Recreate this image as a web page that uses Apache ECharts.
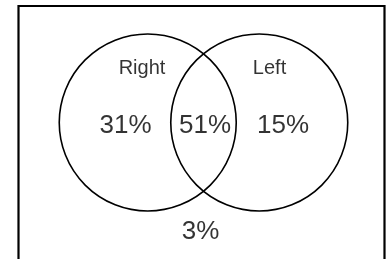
<!DOCTYPE html>
<html>
<head>
<meta charset="utf-8">
<script src="https://cdn.jsdelivr.net/npm/echarts@6/dist/echarts.min.js"></script>
<style>
  html, body { margin: 0; padding: 0; background: #fff; }
  #main { width: 391px; height: 259px; }
</style>
</head>
<body>
<div id="main"></div>
<script>
// circles, in units of the circle radius
var setNames = ['Right', 'Left'];
var setX = [-0.63, 0.63];
var setY = [0, 0];
var setR = [1, 1];
var setLabelX = [-0.695, 0.746];
var setLabelY = [0.616, 0.616];

// region shares (%), Right only / both / Left only / neither
var regionValues = [31, 51, 15, 3];
var regionX = [-0.881, 0.017, 0.898, -0.034];
var regionY = [-0.034, -0.034, -0.034, -1.237];

var chart = echarts.init(document.getElementById('main'));

var circleData = setX.map(function (x, i) { return [x, setY[i], setR[i]]; });
var setLabelData = setNames.map(function (n, i) { return { name: n, value: [setLabelX[i], setLabelY[i]] }; });
var regionData = regionValues.map(function (v, i) { return { name: v + '%', value: [regionX[i], regionY[i]] }; });

var font = 'Liberation Sans, Helvetica, Arial, sans-serif';

chart.setOption({
  animation: false,
  grid: { left: 0, right: 0, top: 0, bottom: 0 },
  xAxis: { type: 'value', min: -2.2994, max: 2.1186, show: false },
  yAxis: { type: 'value', min: -1.5424, max: 1.3842, show: false },
  graphic: [{
    type: 'rect',
    shape: { x: 18.5, y: 6, width: 366, height: 300 },
    style: { fill: 'none', stroke: '#000', lineWidth: 2.2 }
  }],
  series: [
    {
      type: 'custom',
      data: circleData,
      renderItem: function (params, api) {
        var c = api.coord([api.value(0), api.value(1)]);
        var s = api.size([api.value(2), api.value(2)]);
        return {
          type: 'circle',
          shape: { cx: c[0], cy: c[1], r: s[0] },
          style: { fill: 'none', stroke: '#000', lineWidth: 1.6 }
        };
      }
    },
    {
      type: 'scatter',
      symbolSize: 0,
      data: setLabelData,
      label: {
        show: true, position: 'inside', formatter: '{b}',
        color: '#000', fontSize: 20, fontFamily: font
      }
    },
    {
      type: 'scatter',
      symbolSize: 0,
      data: regionData,
      label: {
        show: true, position: 'inside', formatter: '{b}',
        color: '#000', fontSize: 26, fontFamily: font
      }
    }
  ]
});
</script>
</body>
</html>
